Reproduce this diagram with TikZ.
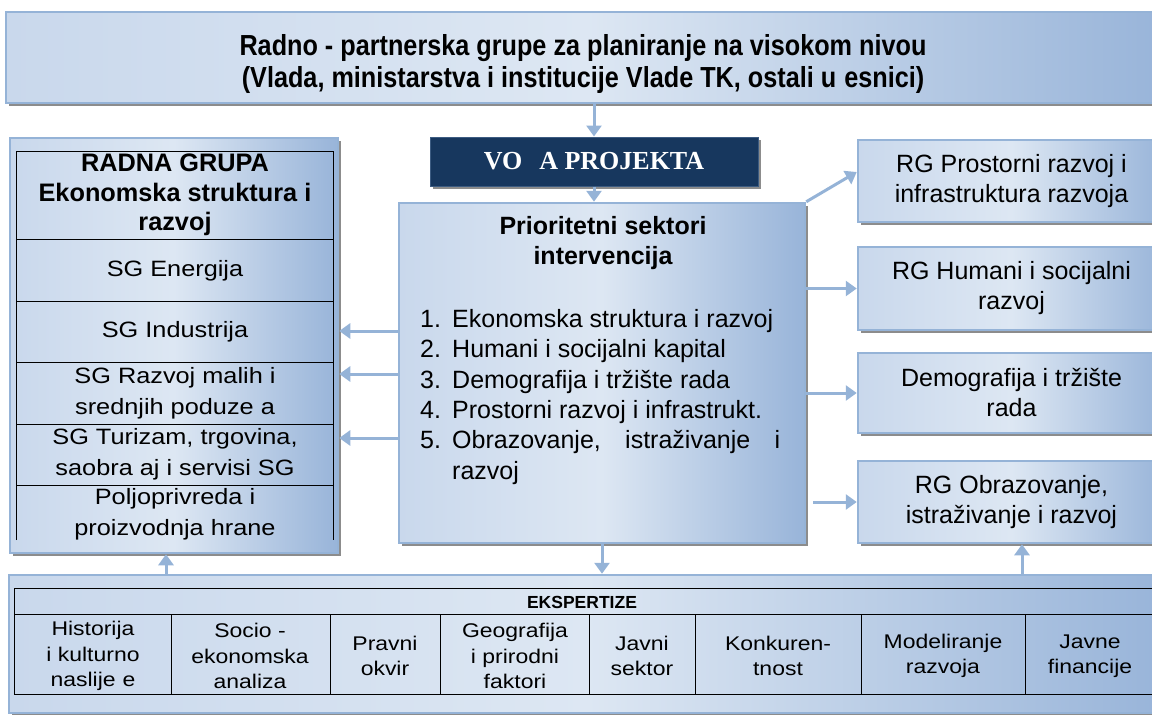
\documentclass[tikz,border=0pt]{standalone}
\usepackage{fontspec}
\setmainfont{Liberation Sans}
\newfontfamily\serifb{Liberation Serif}
\newfontfamily\widef[FakeStretch=1.14]{Liberation Sans}
\newfontfamily\widerf[FakeStretch=1.16]{Liberation Sans}
\newfontfamily\narrowf[FakeStretch=0.87]{Liberation Sans}
\usetikzlibrary{arrows.meta,shadows,calc}
\definecolor{bordc}{HTML}{95B3D7}
\definecolor{gl}{HTML}{C9D8EC}
\definecolor{gm}{HTML}{DDE7F3}
\definecolor{gd}{HTML}{98B4D9}
\definecolor{navy}{HTML}{17375E}
\definecolor{arrc}{HTML}{95B3D7}
\tikzset{
  box/.style={draw=bordc, line width=2.5pt, left color=gl, right color=gd, middle color=gm,
    general shadow={fill=black!45, shadow xshift=3pt, shadow yshift=-3pt}, inner sep=0pt},
  arr/.style={draw=arrc, line width=3pt, -{Triangle[length=11pt,width=15pt]}},
  tline/.style={draw=black, line width=0.9pt},
  ftxt/.style={font=\fontsize{25}{30}\selectfont, align=center},
  fleft/.style={font=\widef\fontsize{22.2}{31}\selectfont, align=center},
  fbot/.style={font=\widerf\fontsize{19.8}{25.5}\selectfont, align=center},
}
\begin{document}
\begin{tikzpicture}[x=1pt,y=-1pt]
\useasboundingbox (0,0) rectangle (1152,715);
% boxes
\node[box, minimum width=1159pt, minimum height=91pt] (top) at (585.5,57.5) {};
\node[font=\narrowf\bfseries\fontsize{29}{31.5}\selectfont, align=center] (toptxt) at (583,64)
  {Radno - partnerska grupe za planiranje na visokom nivou\\(Vlada, ministarstva i institucije Vlade TK, ostali u\hspace{8pt}esnici)};
\node[fill=navy, draw=navy!70!bordc, line width=1pt,
  general shadow={fill=black!45, shadow xshift=3pt, shadow yshift=-3pt},
  minimum width=328pt, minimum height=49pt, text=white,
  font=\serifb\bfseries\fontsize{26}{30}\selectfont] (voda) at (594,161.5) {VO\hspace{17pt}A PROJEKTA};
\node[box, minimum width=406pt, minimum height=340pt] (prior) at (602,373) {};
\node[font=\bfseries\fontsize{25}{30}\selectfont, align=center] (prtitle) at (603,243) {Prioritetni sektori\\intervencija};
\node[font=\fontsize{25}{30.4}\selectfont, align=left, anchor=north west, inner sep=0pt] (prlist) at (420,309)
  {\makebox[32pt][l]{1.}Ekonomska struktura i razvoj\\
   \makebox[32pt][l]{2.}Humani i socijalni kapital\\
   \makebox[32pt][l]{3.}Demografija i tržište rada\\
   \makebox[32pt][l]{4.}Prostorni razvoj i infrastrukt.\\
   \makebox[32pt][l]{5.}\makebox[328pt][s]{Obrazovanje,\hfill istraživanje\hfill i}\\
   \hspace*{32pt}razvoj};
% left box
\node[box, minimum width=328pt, minimum height=415pt] (lg) at (174,345.5) {};
\draw[tline] (16,540) -- (16,151) -- (333,151) -- (333,540);
\foreach \y in {239,301,362,424,485} \draw[tline] (16,\y) -- (333,\y);
\node[font=\bfseries\fontsize{25.3}{29.5}\selectfont, align=center] (lhead) at (175,195) {RADNA GRUPA\\Ekonomska struktura i\\razvoj};
\node[fleft] (sg1) at (175,271) {SG Energija};
\node[fleft] (sg2) at (175,332) {SG Industrija};
\node[fleft] (sg3) at (175,393) {SG Razvoj malih i\\srednjih poduze\hspace{7pt}a};
\node[fleft] (sg4) at (175,454) {SG Turizam, trgovina,\\saobra\hspace{7pt}aj i servisi SG};
\node[fleft] (sg5) at (175,514) {Poljoprivreda i\\proizvodnja hrane};
% right boxes
\node[box, ftxt, minimum width=307pt, minimum height=82pt] (rg1) at (1011.5,181) {RG Prostorni razvoj i\\infrastruktura razvoja};
\node[box, ftxt, minimum width=307pt, minimum height=83pt] (rg2) at (1011.5,288.5) {RG Humani i socijalni\\razvoj};
\node[box, ftxt, minimum width=307pt, minimum height=80pt] (rg3) at (1011.5,393) {Demografija i tržište\\rada};
\node[box, ftxt, minimum width=307pt, minimum height=82pt] (rg4) at (1011.5,502) {RG Obrazovanje,\\istraživanje i razvoj};
% bottom box
\node[box, minimum width=1156pt, minimum height=138pt] (bot) at (587,644) {};
\draw[tline] (1160,588) -- (14,588) -- (14,694) -- (1160,694);
\draw[tline] (14,614) -- (1160,614);
\foreach \x in {171,330,440,589,695,861,1025} \draw[tline] (\x,614) -- (\x,694);
\node[font=\bfseries\fontsize{17.5}{22}\selectfont] (eks) at (582,602) {EKSPERTIZE};
\node[fbot] (e1) at (93,656) {Historija\\i kulturno\\naslije\hspace{7pt}e};
\node[fbot] (e2) at (250,656) {Socio -\\ekonomska\\analiza};
\node[fbot] (e3) at (385,656) {Pravni\\okvir};
\node[fbot] (e4) at (515,656) {Geografija\\i prirodni\\faktori};
\node[fbot] (e5) at (642,656) {Javni\\sektor};
\node[fbot] (e6) at (778,656) {Konkuren-\\tnost};
\node[fbot] (e7) at (943,656) {Modeliranje\\razvoja};
\node[fbot] (e8) at (1090,656) {Javne\\financije};
% connectors
\coordinate (ya) at (0,331);
\coordinate (yb) at (0,374);
\coordinate (yc) at (0,438);
\coordinate (xa) at (166,0);
\coordinate (xb) at (1022,0);
\draw[arr] (top.south -| voda.north) -- (voda.north);
\draw[arr] (voda.south) -- (voda.south |- prior.north);
\draw[arr] (prior.south) -- (prior.south |- bot.north);
\draw[arr] (prior.west |- ya) -- (lg.east |- ya);
\draw[arr] (prior.west |- yb) -- (lg.east |- yb);
\draw[arr] (prior.west |- yc) -- (lg.east |- yc);
\draw[arr] (prior.north east) -- ($(rg1.west)+(0,-9)$);
\draw[arr] (prior.east |- rg2.west) -- (rg2.west);
\draw[arr] (prior.east |- rg3.west) -- (rg3.west);
\draw[arr] ($(prior.east |- rg4.west)+(7,0)$) -- (rg4.west);
\draw[arr] (bot.north -| xb) -- (rg4.south -| xb);
\draw[arr] (bot.north -| xa) -- (lg.south -| xa);
\end{tikzpicture}
\end{document}
